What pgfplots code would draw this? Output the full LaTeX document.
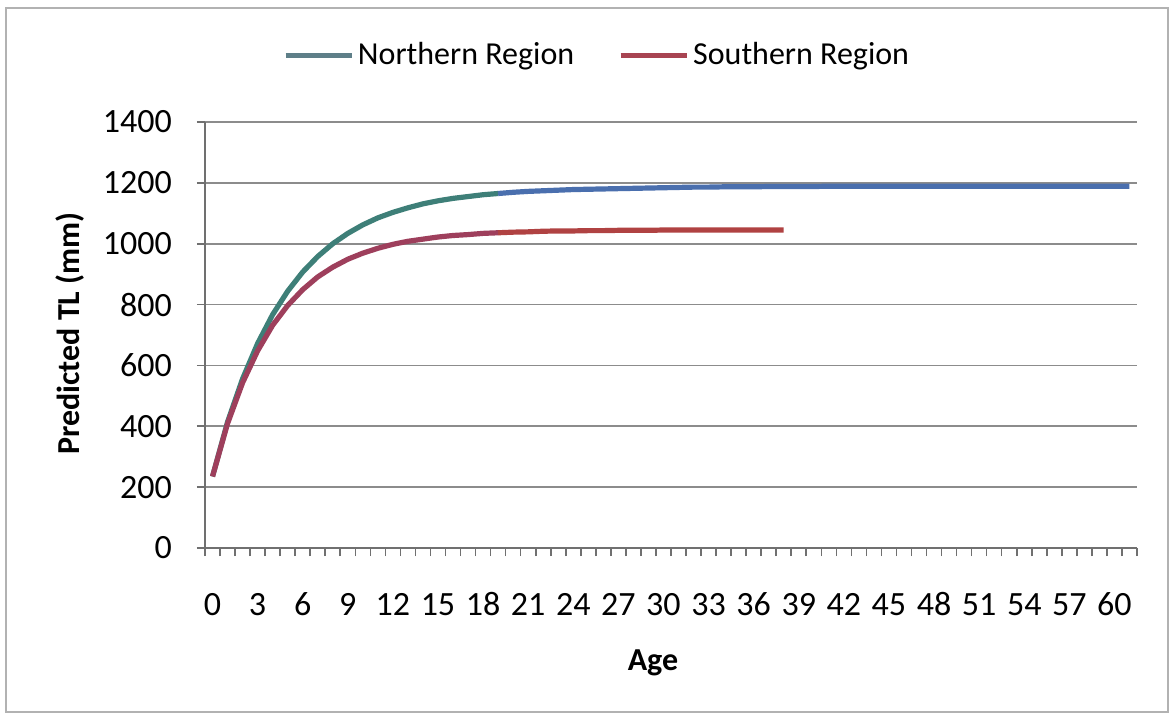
\documentclass[border=0pt]{standalone}
\usepackage{pgfplots}
\pgfplotsset{compat=1.18}
\usepackage{fontspec}
\setmainfont{Carlito}

\definecolor{northA}{HTML}{3E7F78}
\definecolor{northB}{HTML}{4A6FAE}
\definecolor{northL}{HTML}{5E7F88}
\definecolor{southA}{HTML}{9E3F5C}
\definecolor{southB}{HTML}{B04242}
\definecolor{southL}{HTML}{A84452}
\definecolor{gridc}{HTML}{8C8C8C}
\definecolor{axisc}{HTML}{707070}

\begin{document}
\begin{tikzpicture}
\useasboundingbox (-102.5pt,-85.5pt) rectangle (485pt,274pt);
\fill[white] (-102.5pt,-85.5pt) rectangle (485pt,274pt);
\draw[gray!60, line width=0.8pt] (-99.5pt,-82pt) rectangle (481.5pt,270pt);
\begin{axis}[
  at={(0,0)}, anchor=south west,
  scale only axis,
  width=466pt, height=213pt,
  xmin=-0.5, xmax=61.5,
  ymin=0, ymax=1400,
  axis x line=bottom, axis y line=left,
  axis line style={-, color=axisc, line width=0.8pt},
  xtick={0,3,...,60},
  minor xtick={-0.5,0.5,...,61.5},
  ytick={0,200,...,1400},
  minor ytick={0,200,...,1400},
  tick align=outside,
  major tick length=0pt,
  minor tick length=4pt,
  minor tick style={color=axisc, line width=0.8pt},
  ymajorgrids,
  grid style={color=gridc, line width=0.8pt},
  /pgf/number format/assume math mode=true,
  /pgf/number format/1000 sep={},
  tick label style={font=\fontsize{17}{20}\selectfont},
  xticklabel style={anchor=north, text height=12pt, text depth=2pt, yshift=-18pt},
  yticklabel style={anchor=east, xshift=-13pt},
  xlabel={\textbf{Age}},
  ylabel={\textbf{Predicted TL (mm)}},
  label style={font=\fontsize{16}{19}\selectfont},
  xlabel style={at={(axis description cs:0.4807,-0.27)}, anchor=center},
  ylabel style={at={(axis description cs:-0.1449,0.5035)}, anchor=center, rotate=0},
  legend style={at={(0.4217,1.157)}, anchor=center, draw=none, fill=none,
    legend columns=-1, font=\fontsize{16}{19}\selectfont,
    /tikz/every even column/.append style={column sep=20pt}},
  legend image code/.code={\draw[#1] (0pt,0pt) -- (33pt,0pt);},
  clip=false,
]
\addlegendimage{color=northL, line width=2.5pt}
\addlegendentry{Northern Region}
\addlegendimage{color=southL, line width=2.5pt}
\addlegendentry{Southern Region}

% Northern Region
\addplot[forget plot, color=northA, line width=2.6pt, line join=round] coordinates {
  (0,235) (1,414) (2,556) (3,672) (4,767) (5,844) (6,907) (7,958) (8,1000)
  (9,1034) (10,1062) (11,1085) (12,1103) (13,1118) (14,1131) (15,1141)
  (16,1149) (17,1155) (18,1161) (19,1165)
};
\addplot[forget plot, color=northB, line width=2.6pt, line join=round] coordinates {
  (19,1165) (20,1169) (21,1172) (22,1174) (23,1176) (24,1178) (25,1179)
  (26,1180) (27,1181) (28,1182) (29,1183) (30,1184) (31,1185) (32,1186)
  (33,1186) (34,1187) (35,1187) (36,1187) (37,1188) (38,1188) (39,1188)
  (40,1188) (41,1189) (42,1189) (43,1189) (44,1189) (45,1189) (46,1189)
  (47,1189) (48,1189) (49,1189) (50,1189) (51,1189) (52,1189) (53,1189)
  (54,1189) (55,1189) (56,1189) (57,1189) (58,1189) (59,1189) (60,1189)
  (61,1189)
};

% Southern Region
\addplot[forget plot, color=southA, line width=2.6pt, line join=round] coordinates {
  (0,235) (1,409) (2,543) (3,648) (4,732) (5,797) (6,849) (7,891) (8,923)
  (9,949) (10,969) (11,985) (12,998) (13,1008) (14,1015) (15,1022)
  (16,1027) (17,1030) (18,1034) (19,1036)
};
\addplot[forget plot, color=southB, line width=2.6pt, line join=round] coordinates {
  (19,1036) (20,1038) (21,1039) (22,1041) (23,1042) (24,1042) (25,1043)
  (26,1043) (27,1044) (28,1044) (29,1044) (30,1045) (31,1045) (32,1045)
  (33,1045) (34,1045) (35,1045) (36,1045) (37,1045) (38,1045)
};
\end{axis}
\end{tikzpicture}
\end{document}
